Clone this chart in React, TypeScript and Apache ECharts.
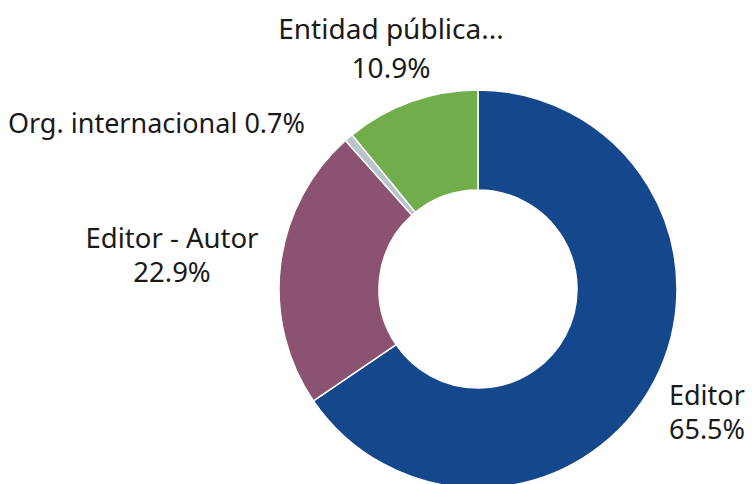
import React, { useEffect, useRef } from "react";
import * as echarts from "echarts";

const categories = ["Editor", "Editor - Autor", "Org. internacional", "Entidad pública..."];
const values = [65.5, 22.9, 0.7, 10.9];
const colors = ["#15478C", "#8B5371", "#B8C3CA", "#72AD4B"];

// label anchor layout (not data)
const labelPos = [
  { x: 669, y: 411, align: "left" },
  { x: 172, y: 254, align: "center" },
  { x: 305, y: 122, align: "right" },
  { x: 391, y: 47, align: "center" },
];
const lineHeights = [34, 34, 34, 39];
const fontSizes = [27, 27.5, 27, 28];

export default function App() {
  const ref = useRef<HTMLDivElement>(null);
  useEffect(() => {
    if (!ref.current) return;
    const chart = echarts.init(ref.current, null, { renderer: "svg" });
    chart.setOption({
      animation: false,
      series: [
        {
          type: "pie",
          center: [478, 289],
          radius: [99, 199],
          startAngle: 90,
          clockwise: true,
          avoidLabelOverlap: false,
          itemStyle: { borderColor: "#ffffff", borderWidth: 1.5 },
          labelLine: { show: false },
          emphasis: { disabled: true },
          data: categories.map((c, i) => ({
            name: c,
            value: values[i],
            itemStyle: { color: colors[i] },
            label: {
              show: true,
              position: "outside",
              fontFamily: "Noto Sans",
              fontSize: fontSizes[i],
              color: "#1a1a1a",
              lineHeight: lineHeights[i],
              formatter:
                i === 2
                  ? `${c} ${values[i].toFixed(1)}%`
                  : `${c}\n${values[i].toFixed(1)}%`,
            },
          })),
          labelLayout: (params: any) => {
            const p = labelPos[params.dataIndex];
            return { x: p.x, y: p.y, align: p.align, verticalAlign: "middle" };
          },
        },
      ],
    });
    return () => chart.dispose();
  }, []);
  return (
    <div
      ref={ref}
      style={{ position: "fixed", left: 0, top: 0, width: 752, height: 484, background: "#fff" }}
    />
  );
}
